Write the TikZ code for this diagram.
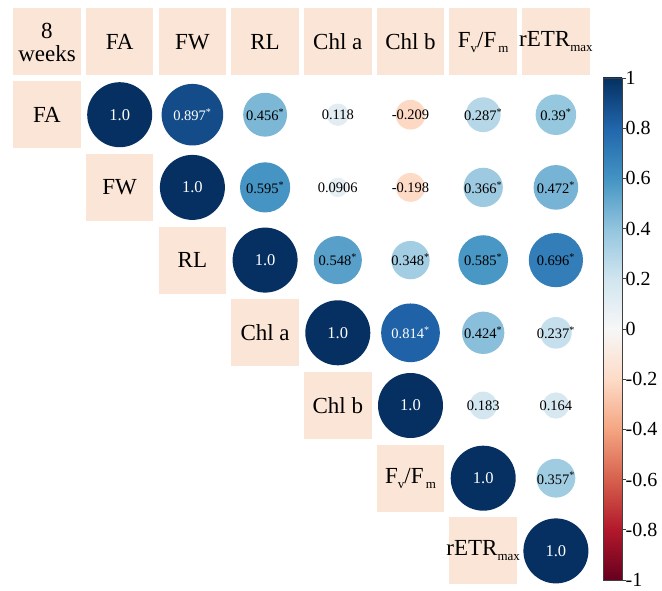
\documentclass[tikz,border=0pt]{standalone}
\usepackage{fontspec}
\setmainfont{Liberation Serif}
\definecolor{rb10}{RGB}{5,48,97}
\definecolor{rb08}{RGB}{33,102,172}
\definecolor{rb06}{RGB}{67,147,195}
\definecolor{rb04}{RGB}{146,197,222}
\definecolor{rb02}{RGB}{209,229,240}
\definecolor{rb00}{RGB}{247,247,247}
\definecolor{rbm02}{RGB}{253,219,199}
\definecolor{rbm04}{RGB}{244,165,130}
\definecolor{rbm06}{RGB}{214,96,77}
\definecolor{rbm08}{RGB}{178,24,43}
\definecolor{rbm10}{RGB}{103,0,31}
\definecolor{boxc}{RGB}{251,229,214}
\tikzset{
  labbox/.style={fill=boxc, minimum width=67.5pt, minimum height=67pt, inner sep=0pt, align=center},
  labfont/.style={font=\fontsize{23}{24}\selectfont},
  corrc/.style={circle, inner sep=0pt, draw=none},
  ticklab/.style={anchor=west, inner sep=0pt, font=\fontsize{20}{22}\selectfont},
}
% name, col, row, |value|, fill, text colour, text
\newcommand\corcell[7]{%
  \node[corrc, fill=#5, minimum size={65*sqrt(#4)}, text=#6,
        font=\fontsize{14.5}{16}\selectfont] (#1) at ({47+72.7*#2},{42+72.7*#3}) {\makebox[0pt]{#7}};}
\newcommand\onecell[2]{%
  \node[corrc, fill=rb10, minimum size=65, text=white,
        font=\fontsize{16.5}{18}\selectfont] (#1) at ({47+72.7*#2},{42+72.7*#2}) {\makebox[0pt]{1.0}};}
\newcommand\st{\textsuperscript{*}}
\newcommand\lsub[1]{\raisebox{-5pt}{\fontsize{13}{13}\selectfont #1}}
\newcommand\FvFm{F\lsub{v}/F\lsub{\,m}}
\newcommand\rETRmax{\kern-3pt rETR\lsub{max}\kern-3pt}
\begin{document}
\begin{tikzpicture}[x=1pt,y=-1pt]
\useasboundingbox (0,0) rectangle (662,591);
% header row
\node[labbox,labfont] (h0) at ({47+72.7*0},42) {8\\[-1pt]weeks};
\node[labbox,labfont] (h1) at ({47+72.7*1},42) {FA};
\node[labbox,labfont] (h2) at ({47+72.7*2},42) {FW};
\node[labbox,labfont] (h3) at ({47+72.7*3},42) {RL};
\node[labbox,labfont] (h4) at ({47+72.7*4},42) {Chl a};
\node[labbox,labfont] (h5) at ({47+72.7*5},42) {Chl b};
\node[labbox,labfont] (h6) at ({47+72.7*6},42) {\FvFm};
\node[labbox,labfont] (h7) at ({47+72.7*7},42) {\rETRmax};
% row labels
\node[labbox,labfont] (rFA) at ({47+72.7*0},{42+72.7*1}) {FA};
\node[labbox,labfont] (rFW) at ({47+72.7*1},{42+72.7*2}) {FW};
\node[labbox,labfont] (rRL) at ({47+72.7*2},{42+72.7*3}) {RL};
\node[labbox,labfont] (rChla) at ({47+72.7*3},{42+72.7*4}) {Chl a};
\node[labbox,labfont] (rChlb) at ({47+72.7*4},{42+72.7*5}) {Chl b};
\node[labbox,labfont] (rFvFm) at ({47+72.7*5},{42+72.7*6}) {\FvFm};
\node[labbox,labfont] (rETR) at ({47+72.7*6},{42+72.7*7}) {\rETRmax};
% diagonal
\onecell{c11}{1}
\onecell{c22}{2}
\onecell{c33}{3}
\onecell{c44}{4}
\onecell{c55}{5}
\onecell{c66}{6}
\onecell{c77}{7}
% row 1
\corcell{c12}{2}{1}{0.897}{rb10!48.5!rb08}{white}{0.897\st}
\corcell{c13}{3}{1}{0.456}{rb06!28!rb04}{black}{0.456\st}
\corcell{c14}{4}{1}{0.118}{rb02!59!rb00}{black}{0.118}
\corcell{c15}{5}{1}{0.209}{rbm04!4.5!rbm02}{black}{-0.209}
\corcell{c16}{6}{1}{0.287}{rb04!43.5!rb02}{black}{0.287\st}
\corcell{c17}{7}{1}{0.39}{rb04!95!rb02}{black}{0.39\st}
% row 2
\corcell{c23}{3}{2}{0.595}{rb06!97.5!rb04}{black}{0.595\st}
\corcell{c24}{4}{2}{0.0906}{rb02!45.3!rb00}{black}{0.0906}
\corcell{c25}{5}{2}{0.198}{rbm02!99!rb00}{black}{-0.198}
\corcell{c26}{6}{2}{0.366}{rb04!83!rb02}{black}{0.366\st}
\corcell{c27}{7}{2}{0.472}{rb06!36!rb04}{black}{0.472\st}
% row 3
\corcell{c34}{4}{3}{0.548}{rb06!74!rb04}{black}{0.548\st}
\corcell{c35}{5}{3}{0.348}{rb04!74!rb02}{black}{0.348\st}
\corcell{c36}{6}{3}{0.585}{rb06!92.5!rb04}{black}{0.585\st}
\corcell{c37}{7}{3}{0.696}{rb08!48!rb06}{black}{0.696\st}
% row 4
\corcell{c45}{5}{4}{0.814}{rb10!7!rb08}{white}{0.814\st}
\corcell{c46}{6}{4}{0.424}{rb06!12!rb04}{black}{0.424\st}
\corcell{c47}{7}{4}{0.237}{rb04!18.5!rb02}{black}{0.237\st}
% row 5
\corcell{c56}{6}{5}{0.183}{rb02!91.5!rb00}{black}{0.183}
\corcell{c57}{7}{5}{0.164}{rb02!82!rb00}{black}{0.164}
% row 6
\corcell{c67}{7}{6}{0.357}{rb04!78.5!rb02}{black}{0.357\st}
% colour bar: 1 at y=78, -1 at y=580
\shade[top color=rb10, bottom color=rb08] (603,78) rectangle (622,128.2);
\shade[top color=rb08, bottom color=rb06] (603,128.2) rectangle (622,178.4);
\shade[top color=rb06, bottom color=rb04] (603,178.4) rectangle (622,228.6);
\shade[top color=rb04, bottom color=rb02] (603,228.6) rectangle (622,278.8);
\shade[top color=rb02, bottom color=rb00] (603,278.8) rectangle (622,329);
\shade[top color=rb00, bottom color=rbm02] (603,329) rectangle (622,379.2);
\shade[top color=rbm02, bottom color=rbm04] (603,379.2) rectangle (622,429.4);
\shade[top color=rbm04, bottom color=rbm06] (603,429.4) rectangle (622,479.6);
\shade[top color=rbm06, bottom color=rbm08] (603,479.6) rectangle (622,529.8);
\shade[top color=rbm08, bottom color=rbm10] (603,529.8) rectangle (622,580);
\draw[black!75, line width=0.8pt] (603,78) rectangle (622,580);
\foreach \v/\t [count=\k] in {1/1,0.8/0.8,0.6/0.6,0.4/0.4,0.2/0.2,0/0,-0.2/-0.2,-0.4/-0.4,-0.6/-0.6,-0.8/-0.8,-1/-1}{
  \draw[black!75, line width=0.8pt] (622,{329-251*\v}) -- (625.5,{329-251*\v});
  \node[ticklab] (tk\k) at (625.5,{329-251*\v}) {\t};
}
\end{tikzpicture}
\end{document}
